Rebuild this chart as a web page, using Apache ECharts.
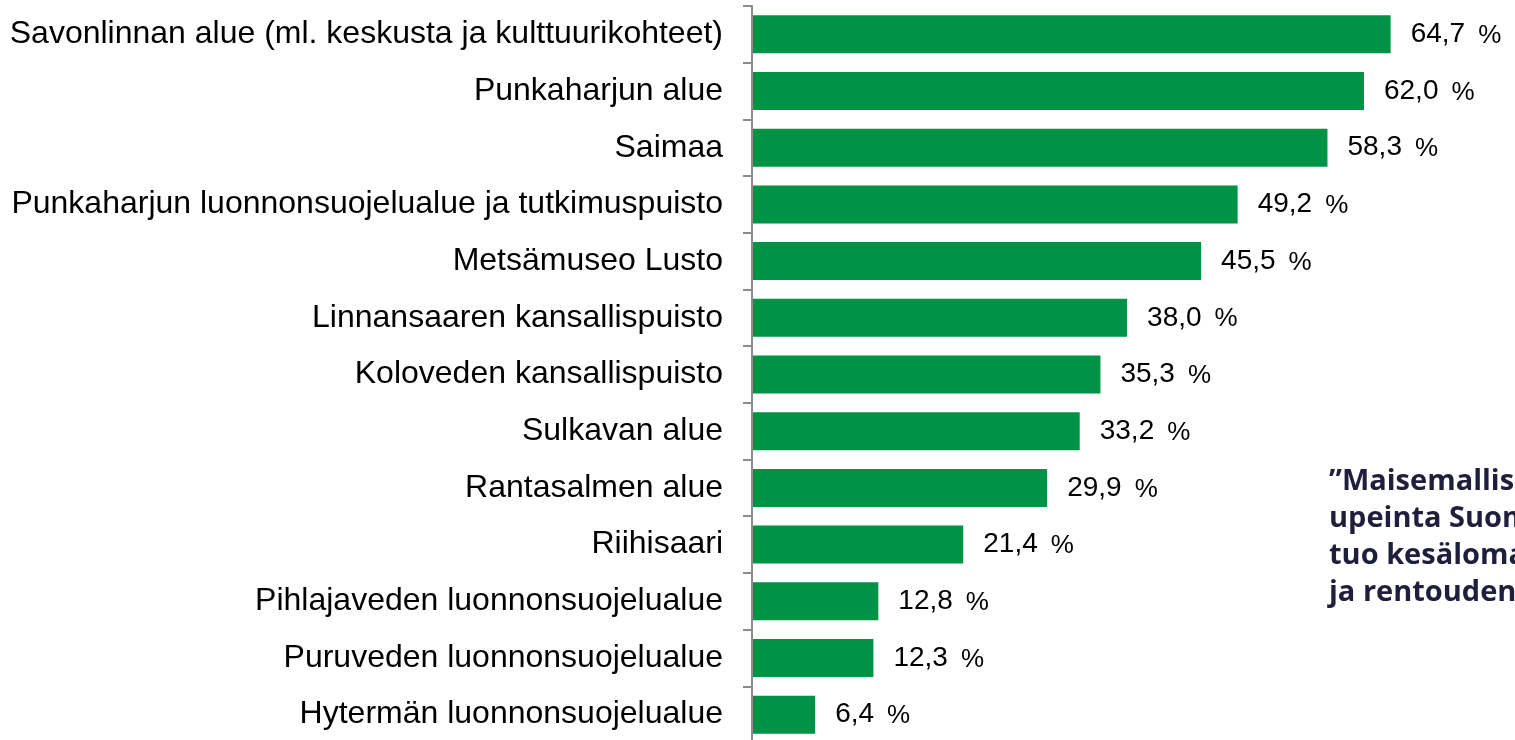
<!DOCTYPE html>
<html>
<head>
<meta charset="utf-8">
<script src="https://cdn.jsdelivr.net/npm/echarts@6/dist/echarts.min.js"></script>
<style>
  html, body { margin: 0; padding: 0; background: #fff; }
  #chart { width: 1515px; height: 740px; }
</style>
</head>
<body>
<div id="chart"></div>
<script>
// kohteet ylhäältä alas
const categories = [
  'Savonlinnan alue (ml. keskusta ja kulttuurikohteet)',
  'Punkaharjun alue',
  'Saimaa',
  'Punkaharjun luonnonsuojelualue ja tutkimuspuisto',
  'Metsämuseo Lusto',
  'Linnansaaren kansallispuisto',
  'Koloveden kansallispuisto',
  'Sulkavan alue',
  'Rantasalmen alue',
  'Riihisaari',
  'Pihlajaveden luonnonsuojelualue',
  'Puruveden luonnonsuojelualue',
  'Hytermän luonnonsuojelualue'
];
const values = [64.7, 62.0, 58.3, 49.2, 45.5, 38.0, 35.3, 33.2, 29.9, 21.4, 12.8, 12.3, 6.4];
const quoteLines = ['”Maisemallisesti', 'upeinta Suomea,', 'tuo kesäloman', 'ja rentouden'];

const chart = echarts.init(document.getElementById('chart'));

const option = {
  animation: false,
  grid: {
    left: 752,
    right: 0,
    top: 6,
    bottom: -3,
    outerBoundsMode: 'none'
  },
  xAxis: {
    type: 'value',
    min: 0,
    max: 77.3,
    show: false
  },
  yAxis: {
    type: 'category',
    data: categories,
    inverse: true,
    z: 3,
    axisLine: { show: true, lineStyle: { color: '#8c8c8c', width: 2 } },
    axisTick: { show: true, length: 9, lineStyle: { color: '#8c8c8c', width: 2 } },
    axisLabel: {
      margin: 29,
      color: '#000',
      fontSize: 32,
      fontFamily: 'Liberation Sans, Arial, sans-serif'
    }
  },
  series: [{
    type: 'bar',
    data: values,
    barWidth: 38,
    itemStyle: { color: '#009245' },
    label: {
      show: true,
      position: 'right',
      distance: 20,
      formatter: p => '{n|' + p.value.toFixed(1).replace('.', ',') + '}{p|%}',
      rich: {
        n: { fontSize: 28, color: '#000', fontFamily: 'Liberation Sans, Arial, sans-serif' },
        p: { fontSize: 26, color: '#000', fontFamily: 'Liberation Sans, Arial, sans-serif', padding: [3, 0, 0, 13] }
      }
    }
  }],
  graphic: [{
    type: 'text',
    left: 1329,
    top: 463,
    style: {
      text: quoteLines.join('\n'),
      fill: '#1f1f3d',
      font: 'bold 29px "Open Sans", "Noto Sans", sans-serif',
      lineHeight: 37
    }
  }]
};

chart.setOption(option);
</script>
</body>
</html>
